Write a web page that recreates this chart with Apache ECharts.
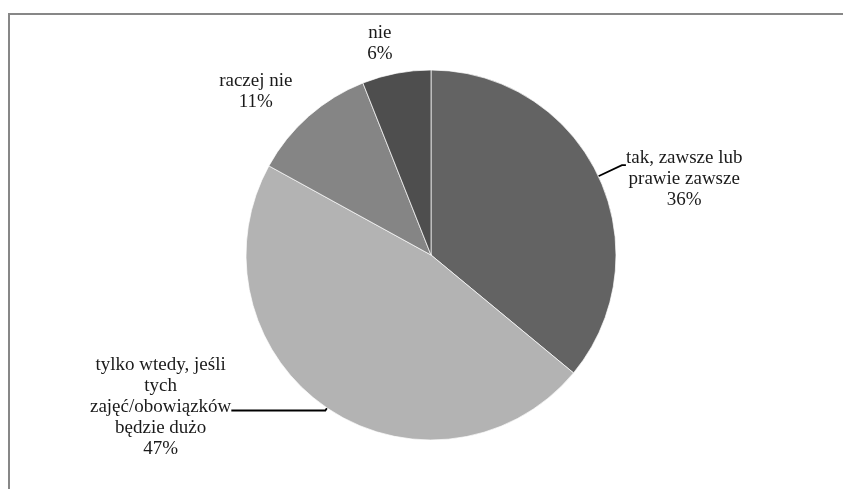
<!DOCTYPE html>
<html>
<head>
<meta charset="utf-8">
<script src="https://cdn.jsdelivr.net/npm/echarts@6/dist/echarts.min.js"></script>
<style>
html,body{margin:0;padding:0;background:#fff;}
#chart{width:843px;height:489px;}
</style>
</head>
<body>
<div id="chart"></div>
<script>
// Data
var categories = [
  'tak, zawsze lub\nprawie zawsze',
  'tylko wtedy, jeśli\ntych\nzajęć/obowiązków\nbędzie dużo',
  'raczej nie',
  'nie'
];
var values = [36, 47, 11, 6];
var colors = ['#636363', '#b3b3b3', '#858585', '#4e4e4e'];

// label placement tuning (style only)
var labelStyles = [
  { len: 26, len2: 4, pad: [28, 0, 0, 0], line: true },
  { len: 3, len2: 94, pad: [0, 0, 7, 0], line: true },
  { len: 20, len2: 3, pad: [0, 0, 20, 0], line: false },
  { len: 20, len2: 0, pad: [0, 0, 21, 0], line: false }
];

var chart = echarts.init(document.getElementById('chart'), null, { renderer: 'canvas' });

var data = categories.map(function (name, i) {
  var s = labelStyles[i];
  return {
    name: name,
    value: values[i],
    itemStyle: { color: colors[i] },
    label: { padding: s.pad },
    labelLine: { show: s.line, length: s.len, length2: s.len2 }
  };
});

var option = {
  animation: false,
  backgroundColor: '#ffffff',
  graphic: [{
    type: 'rect',
    z: -10,
    shape: { x: 9, y: 14, width: 1200, height: 1000 },
    style: { fill: 'none', stroke: '#878787', lineWidth: 2 }
  }],
  series: [{
    type: 'pie',
    center: [431, 255],
    radius: 185,
    startAngle: 90,
    clockwise: true,
    avoidLabelOverlap: false,
    itemStyle: { borderColor: '#ffffff', borderWidth: 0.7 },
    emphasis: { disabled: true },
    label: {
      show: true,
      position: 'outside',
      distanceToLabelLine: 0,
      formatter: function (p) {
        var lines = p.name.split('\n').map(function (l) { return '{c|' + l + '}'; });
        lines.push('{c|' + p.value + '%}');
        return lines.join('\n');
      },
      rich: {
        c: {
          align: 'center',
          fontFamily: 'Liberation Serif',
          fontSize: 19,
          lineHeight: 21,
          color: '#1a1a1a'
        }
      }
    },
    labelLine: {
      lineStyle: { color: '#000000', width: 1.8 }
    },
    data: data
  }]
};

chart.setOption(option);
</script>
</body>
</html>
